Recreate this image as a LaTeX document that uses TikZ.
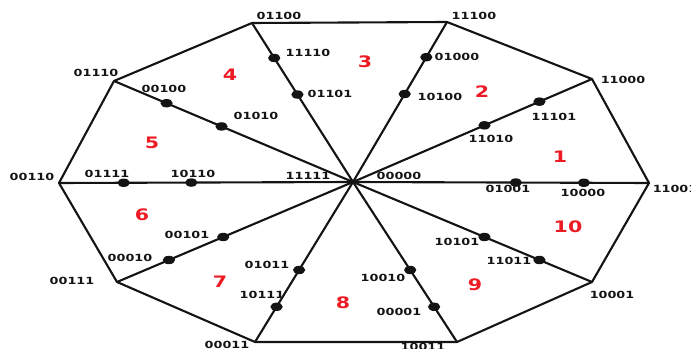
\documentclass[tikz,border=0pt]{standalone}
\usepackage{fontspec}
\usepackage{tikz}
\usepackage{xcolor}
\usetikzlibrary{shapes.geometric, calc}
\newfontfamily\codefont[FakeStretch=1.3]{DejaVu Sans}
\definecolor{sectorRed}{RGB}{237,28,36}
\definecolor{graphInk}{RGB}{20,20,20}

\begin{document}
\begin{tikzpicture}[
    x=0.03cm, y=-0.03cm,
    code/.style={font=\codefont\bfseries\fontsize{8.4pt}{9pt}\selectfont, text=graphInk, inner sep=0pt},
    sector/.style={font=\codefont\bfseries\fontsize{13.5pt}{14pt}\selectfont, text=sectorRed, inner sep=0pt},
    edge/.style={draw=graphInk, line width=1.8pt, line join=round},
    dot/.style={ellipse, fill=graphInk, minimum width=10.5pt, minimum height=7.2pt, inner sep=0pt}
  ]
  \useasboundingbox (0,0) rectangle (691,349);

  % outer vertices and hub
  \coordinate (c) at (353,182);
  \foreach \n/\x/\y in {01100/252/23, 11100/447/22, 11000/592/79, 11001/649/183, 10001/592/282,
                        10011/457/342, 00011/255/342, 00111/117/282, 00110/59/183, 01110/114/81}
    \coordinate (v\n) at (\x,\y);

  \draw[edge] (v01100) -- (v11100) -- (v11000) -- (v11001) -- (v10001) -- (v10011)
    -- (v00011) -- (v00111) -- (v00110) -- (v01110) -- cycle;
  \foreach \v in {01100,11100,11000,11001,10001,10011,00011,00111,00110,01110}
    \draw[edge] (c) -- (v\v);

  % two points on every spoke
  \foreach \v/\p/\q in {01100/01101/11110, 11100/10100/01000, 11000/11010/11101, 11001/01001/10000,
                        10001/10101/11011, 10011/10010/00001, 00011/01011/10111, 00111/00101/00010,
                        00110/10110/01111, 01110/01010/00100} {
    \node[dot] (d\p) at ($(c)!0.55!(v\v)$) {};
    \node[dot] (d\q) at ($(c)!0.78!(v\v)$) {};
  }

  % codewords
  \foreach \t/\x/\y in {01100/279/16, 11100/474/16, 11000/623/80, 11001/675/189, 10001/612/295,
                        10011/423/347, 00011/227/345, 00111/72/281, 00110/32/177, 01110/96/73,
                        11110/308/53, 01101/330/94, 01000/457/57, 10100/440/97, 11101/554/117,
                        11010/491/139, 01001/508/189, 10000/583/193, 10101/457/242, 11011/509/261,
                        10010/383/278, 00001/399/312, 01011/267/265, 10111/262/295, 00101/187/235,
                        00010/130/258, 01111/107/174, 10110/193/174, 11111/308/176, 00000/399/176,
                        00100/164/89, 01010/256/116}
    \node[code] (l\t) at (\x,\y) {\t};

  % sector numbers
  \foreach \t/\x/\y in {1/560/157, 2/482/92, 3/365/62, 4/230/75, 5/152/143,
                        6/142/215, 7/220/282, 8/343/303, 9/475/285, 10/568/227}
    \node[sector] (s\t) at (\x,\y) {\t};
\end{tikzpicture}
\end{document}
